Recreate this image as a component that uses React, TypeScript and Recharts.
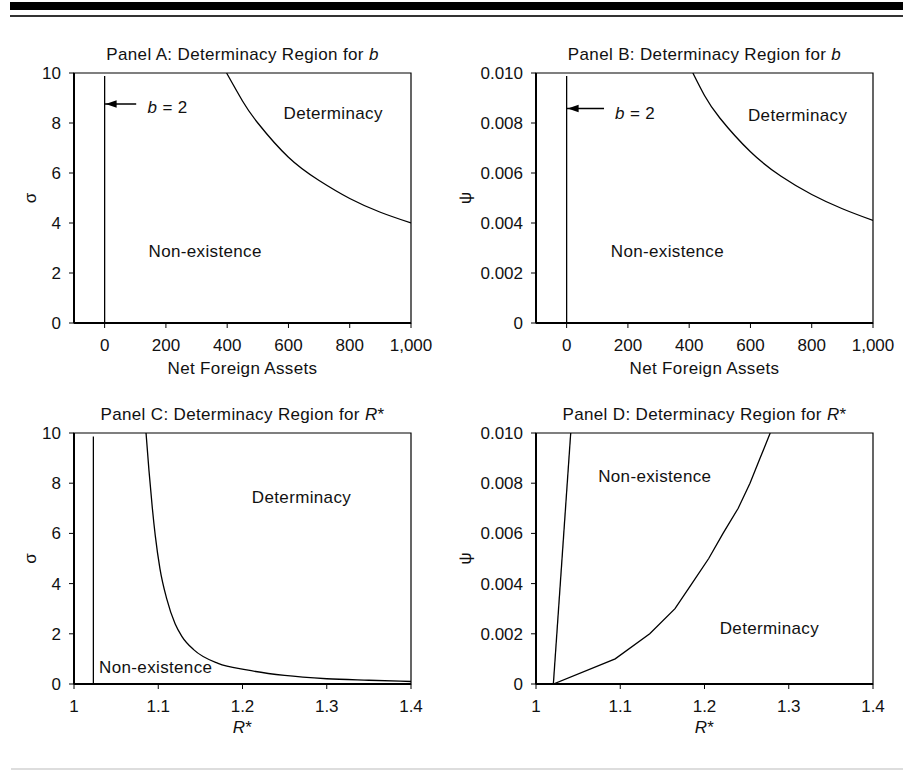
import React from 'react';
import { LineChart, Line, XAxis, YAxis, ReferenceArea, ReferenceDot, ReferenceLine } from 'recharts';

const FONT = "'Liberation Sans', Arial, Helvetica, sans-serif";
const INK = '#111';

// ---------- Panel A : sigma vs net foreign assets ----------
const nfaA = [398, 450, 500, 600, 700, 800, 900, 1000];
const sigmaA = [10, 8.88, 8.0, 6.63, 5.7, 4.98, 4.43, 4.0];
const boundaryA_nfa = [0, 0];
const boundaryA_sigma = [0, 9.88];

// ---------- Panel B : psi vs net foreign assets ----------
const nfaB = [412, 450, 500, 600, 700, 800, 900, 1000];
const psiB = [0.01, 0.0091, 0.0082, 0.00685, 0.00587, 0.00514, 0.00457, 0.0041];
const boundaryB_nfa = [0, 0];
const boundaryB_psi = [0, 0.00988];

// ---------- Panel C : sigma vs R* ----------
const rC = [1.0855, 1.089, 1.093, 1.0965, 1.102, 1.11, 1.12, 1.128, 1.142, 1.171, 1.205, 1.25, 1.3, 1.35, 1.4];
const sigmaC = [10, 8.5, 7.0, 5.9, 4.6, 3.4, 2.4, 1.9, 1.37, 0.82, 0.56, 0.34, 0.21, 0.15, 0.1];
const boundaryC_r = [1.023, 1.023];
const boundaryC_sigma = [0, 9.86];

// ---------- Panel D : psi vs R* ----------
const rD = [1.0206, 1.094, 1.135, 1.165, 1.185, 1.205, 1.222, 1.24, 1.254, 1.266, 1.278];
const psiD = [0, 0.001, 0.002, 0.003, 0.004, 0.005, 0.006, 0.007, 0.008, 0.009, 0.01];
const boundaryD_r = [1.0206, 1.0412];
const boundaryD_psi = [0, 0.01];

// ---------- ticks ----------
const nfaTicks = [0, 200, 400, 600, 800, 1000];
const rTicks = [1, 1.1, 1.2, 1.3, 1.4];
const sigmaTicks = [0, 2, 4, 6, 8, 10];
const psiTicks = [0, 0.002, 0.004, 0.006, 0.008, 0.01];

const zip = (xs: number[], ys: number[]) => xs.map((x, i) => ({ x, y: ys[i] }));

const fmtNfa = (v: number) => v.toLocaleString('en-US');
const fmtR = (v: number) => (v === 1 ? '1' : v.toFixed(1));
const fmtSigma = (v: number) => String(v);
const fmtPsi = (v: number) => (v === 0 ? '0' : v.toFixed(3));

const textStyle: React.CSSProperties = { letterSpacing: '0.35px' };

type Note = { x: number; y: number; text: React.ReactNode; anchor?: 'start' | 'middle' | 'end' };
type Series = { data: { x: number; y: number }[]; type: 'monotone' | 'linear' | 'natural' };

type PanelProps = {
  left: number;
  top: number;
  width: number;
  height: number;
  yAxisWidth: number;
  marginTop: number;
  marginRight: number;
  xAxisHeight: number;
  xDomain: [number, number];
  xTicks: number[];
  xFmt: (v: number) => string;
  yDomain: [number, number];
  yTicks: number[];
  yFmt: (v: number) => string;
  series: Series[];
  title: React.ReactNode;
  yLabel: string;
  yLabelX: number;
  xLabel: React.ReactNode;
  xLabelOffset: number;
  notes: Note[];
  arrow?: { from: number; to: number; y: number };
};

function Panel(p: PanelProps) {
  const titleContent = (props: any) => {
    const vb = props.viewBox || {};
    return (
      <text
        x={vb.x + vb.width / 2}
        y={vb.y - 19}
        dy="0.36em"
        textAnchor="middle"
        fontFamily={FONT}
        fontSize={17}
        fill={INK}
        style={textStyle}
      >
        {p.title}
      </text>
    );
  };
  const yLabelContent = (props: any) => {
    const vb = props.viewBox || {};
    const cx = vb.x + p.yLabelX;
    const cy = vb.y + vb.height / 2;
    return (
      <text
        x={cx}
        y={cy}
        dy="0.36em"
        textAnchor="middle"
        fontFamily={FONT}
        fontSize={17}
        fill={INK}
        transform={`rotate(-90, ${cx}, ${cy})`}
      >
        {p.yLabel}
      </text>
    );
  };
  const xLabelContent = (props: any) => {
    const vb = props.viewBox || {};
    return (
      <text
        x={vb.x + vb.width / 2}
        y={vb.y + p.xLabelOffset}
        dy="0.36em"
        textAnchor="middle"
        fontFamily={FONT}
        fontSize={17}
        fill={INK}
        style={textStyle}
      >
        {p.xLabel}
      </text>
    );
  };

  return (
    <div style={{ position: 'absolute', left: p.left, top: p.top, width: p.width, height: p.height }}>
      <LineChart
        width={p.width}
        height={p.height}
        margin={{ top: p.marginTop, right: p.marginRight, bottom: 0, left: 0 }}
      >
        <XAxis
          type="number"
          dataKey="x"
          domain={p.xDomain}
          ticks={p.xTicks}
          tickFormatter={p.xFmt}
          allowDataOverflow
          height={p.xAxisHeight}
          tickSize={5}
          tickMargin={11}
          axisLine={{ stroke: '#000', strokeWidth: 2 }}
          tickLine={{ stroke: '#000', strokeWidth: 1 }}
          tick={{ fill: INK, fontSize: 17, fontFamily: FONT }}
          label={xLabelContent}
        />
        <YAxis
          type="number"
          dataKey="y"
          domain={p.yDomain}
          ticks={p.yTicks}
          tickFormatter={p.yFmt}
          allowDataOverflow
          width={p.yAxisWidth}
          tickSize={5}
          tickMargin={8}
          axisLine={{ stroke: '#000', strokeWidth: 2 }}
          tickLine={{ stroke: '#000', strokeWidth: 1 }}
          tick={{ fill: INK, fontSize: 17, fontFamily: FONT }}
          label={yLabelContent}
        />
        <ReferenceArea
          x1={p.xDomain[0]}
          x2={p.xDomain[1]}
          y1={p.yDomain[0]}
          y2={p.yDomain[1]}
          fill="none"
          fillOpacity={0}
          stroke="#000"
          strokeWidth={1.2}
          ifOverflow="visible"
          label={titleContent}
        />
        {p.series.map((s, i) => (
          <Line
            key={i}
            data={s.data}
            dataKey="y"
            type={s.type}
            stroke="#000"
            strokeWidth={1.3}
            dot={false}
            activeDot={false}
            isAnimationActive={false}
          />
        ))}
        {p.arrow && (
          <ReferenceLine
            segment={[
              { x: p.arrow.from, y: p.arrow.y },
              { x: p.arrow.to, y: p.arrow.y },
            ]}
            stroke="#000"
            strokeWidth={1.3}
          />
        )}
        {p.arrow && (
          <ReferenceDot
            x={p.arrow.to}
            y={p.arrow.y}
            r={0}
            shape={(d: any) => (
              <polygon
                points={`${d.cx + 1},${d.cy} ${d.cx + 12},${d.cy - 3.8} ${d.cx + 12},${d.cy + 3.8}`}
                fill="#000"
              />
            )}
          />
        )}
        {p.notes.map((n, i) => (
          <ReferenceDot
            key={`n${i}`}
            x={n.x}
            y={n.y}
            r={0}
            shape={(d: any) => (
              <text
                x={d.cx}
                y={d.cy}
                dy="0.36em"
                textAnchor={n.anchor || 'middle'}
                fontFamily={FONT}
                fontSize={17}
                fill={INK}
                style={textStyle}
              >
                {n.text}
              </text>
            )}
          />
        ))}
      </LineChart>
    </div>
  );
}

const It = ({ children }: { children: React.ReactNode }) => <tspan fontStyle="italic">{children}</tspan>;

export default function App() {
  return (
    <div
      style={{
        position: 'absolute',
        left: 0,
        top: 0,
        width: 903,
        height: 770,
        background: '#fff',
        overflow: 'hidden',
      }}
    >
      <div style={{ position: 'absolute', left: 10, top: 2, width: 893, height: 8, background: '#000' }} />
      <div style={{ position: 'absolute', left: 10, top: 15, width: 893, height: 2, background: '#333' }} />
      <div style={{ position: 'absolute', left: 11, top: 768, width: 892, height: 2, background: '#ddd' }} />

      <Panel
        left={0}
        top={30}
        width={451}
        height={360}
        yAxisWidth={74}
        marginTop={43}
        marginRight={40}
        xAxisHeight={67}
        xDomain={[-100, 1000]}
        xTicks={nfaTicks}
        xFmt={fmtNfa}
        yDomain={[0, 10]}
        yTicks={sigmaTicks}
        yFmt={fmtSigma}
        series={[
          { data: zip(nfaA, sigmaA), type: 'natural' },
          { data: zip(boundaryA_nfa, boundaryA_sigma), type: 'linear' },
        ]}
        title={<>Panel A: Determinacy Region for <It>b</It></>}
        yLabel="σ"
        yLabelX={30}
        xLabel="Net Foreign Assets"
        xLabelOffset={45}
        arrow={{ from: 103, to: 0, y: 8.76 }}
        notes={[
          { x: 140, y: 8.65, text: <><It>b</It> = 2</>, anchor: 'start' },
          { x: 746, y: 8.4, text: 'Determinacy' },
          { x: 328, y: 2.88, text: 'Non-existence' },
        ]}
      />

      <Panel
        left={451}
        top={30}
        width={452}
        height={360}
        yAxisWidth={85}
        marginTop={43}
        marginRight={30}
        xAxisHeight={67}
        xDomain={[-100, 1000]}
        xTicks={nfaTicks}
        xFmt={fmtNfa}
        yDomain={[0, 0.01]}
        yTicks={psiTicks}
        yFmt={fmtPsi}
        series={[
          { data: zip(nfaB, psiB), type: 'natural' },
          { data: zip(boundaryB_nfa, boundaryB_psi), type: 'linear' },
        ]}
        title={<>Panel B: Determinacy Region for <It>b</It></>}
        yLabel="ψ"
        yLabelX={14}
        xLabel="Net Foreign Assets"
        xLabelOffset={45}
        arrow={{ from: 122, to: 0, y: 0.00858 }}
        notes={[
          { x: 158, y: 0.0084, text: <><It>b</It> = 2</>, anchor: 'start' },
          { x: 754, y: 0.00831, text: 'Determinacy' },
          { x: 329, y: 0.0029, text: 'Non-existence' },
        ]}
      />

      <Panel
        left={0}
        top={390}
        width={451}
        height={380}
        yAxisWidth={74}
        marginTop={43}
        marginRight={40}
        xAxisHeight={86}
        xDomain={[1, 1.4]}
        xTicks={rTicks}
        xFmt={fmtR}
        yDomain={[0, 10]}
        yTicks={sigmaTicks}
        yFmt={fmtSigma}
        series={[
          { data: zip(rC, sigmaC), type: 'monotone' },
          { data: zip(boundaryC_r, boundaryC_sigma), type: 'linear' },
        ]}
        title={<>Panel C: Determinacy Region for <It>R</It>*</>}
        yLabel="σ"
        yLabelX={30}
        xLabel={<><It>R</It>*</>}
        xLabelOffset={43}
        notes={[
          { x: 1.27, y: 7.45, text: 'Determinacy' },
          { x: 1.097, y: 0.69, text: 'Non-existence' },
        ]}
      />

      <Panel
        left={451}
        top={390}
        width={452}
        height={380}
        yAxisWidth={85}
        marginTop={43}
        marginRight={30}
        xAxisHeight={86}
        xDomain={[1, 1.4]}
        xTicks={rTicks}
        xFmt={fmtR}
        yDomain={[0, 0.01]}
        yTicks={psiTicks}
        yFmt={fmtPsi}
        series={[
          { data: zip(rD, psiD), type: 'linear' },
          { data: zip(boundaryD_r, boundaryD_psi), type: 'linear' },
        ]}
        title={<>Panel D: Determinacy Region for <It>R</It>*</>}
        yLabel="ψ"
        yLabelX={14}
        xLabel={<><It>R</It>*</>}
        xLabelOffset={43}
        notes={[
          { x: 1.141, y: 0.00831, text: 'Non-existence' },
          { x: 1.277, y: 0.00222, text: 'Determinacy' },
        ]}
      />
    </div>
  );
}
